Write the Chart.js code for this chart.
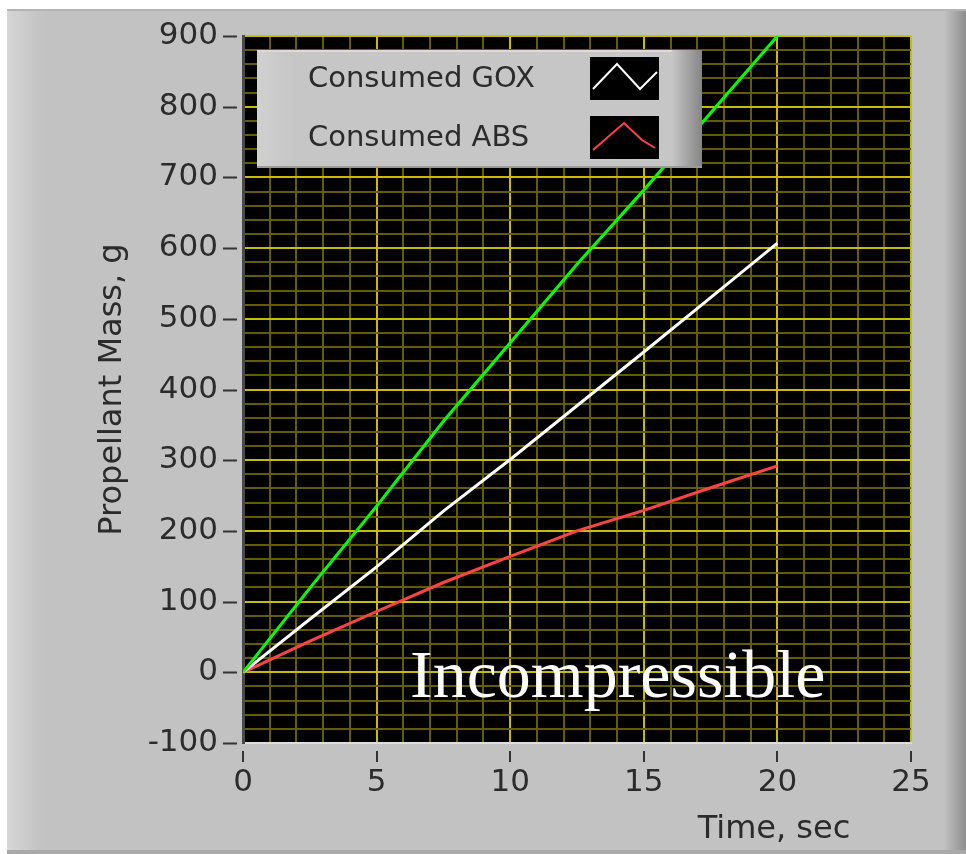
<!DOCTYPE html>
<html>
<head>
  <title>Propellant Mass</title>
  <script src="https://cdn.jsdelivr.net/npm/chart.js"></script>
  <style>
    body { margin: 0; background: #fff; }
    canvas { display: block; }
  </style>
</head>
<body>
  <canvas id="massChart" width="966" height="854"></canvas>

  <script>
    // time in sec, mass in g
    const timeSec  = [0, 2.5, 5, 7.5, 10, 12.5, 15, 17.5, 20];
    const totalMass = [0, 119, 235, 355, 466, 577, 682, 791, 900];
    const goxMass  = [0, 75, 149, 228, 301, 377, 453, 530, 607];
    const absMass  = [0, 44, 86, 127, 164, 200, 229, 261, 292];

    const xMajorTicks = [0, 5, 10, 15, 20, 25];
    const yMajorTicks = [-100, 0, 100, 200, 300, 400, 500, 600, 700, 800, 900];
    const xTitle = 'Time, sec';
    const yTitle = 'Propellant Mass, g';
    const noteText = 'Incompressible';

    const MAJOR = '#c8bc00';
    const MINOR = '#645c00';
    const TEXT = '#2b2b2b';
    const FONT = '"DejaVu Sans", sans-serif';

    function points(ys) {
      return timeSec.map((t, i) => ({ x: t, y: ys[i] }));
    }

    // panel, plot background, tick marks
    const panelPlugin = {
      id: 'panel',
      beforeDraw(chart) {
        const ctx = chart.ctx;
        const W = chart.width, H = chart.height;
        const a = chart.chartArea;
        ctx.save();
        ctx.fillStyle = '#ffffff';
        ctx.fillRect(0, 0, W, H);
        ctx.fillStyle = '#c2c2c2';
        ctx.fillRect(7, 9, W - 7, H - 9);
        ctx.fillStyle = '#b4b4b4';
        ctx.fillRect(7, 9, W - 7, 2);
        let g = ctx.createLinearGradient(7, 0, 44, 0);
        g.addColorStop(0, '#d6d6d6');
        g.addColorStop(1, '#c2c2c2');
        ctx.fillStyle = g;
        ctx.fillRect(7, 11, 37, H - 11);
        g = ctx.createLinearGradient(944, 0, W, 0);
        g.addColorStop(0, '#c2c2c2');
        g.addColorStop(1, '#8e8e8e');
        ctx.fillStyle = g;
        ctx.fillRect(944, 11, W - 944, H - 11);
        ctx.fillStyle = '#a9a9a9';
        ctx.fillRect(7, H - 4, W - 7, 4);
        ctx.fillStyle = '#000000';
        ctx.fillRect(a.left, a.top, a.right - a.left, a.bottom - a.top);
        ctx.restore();
      },
      afterDraw(chart) {
        const ctx = chart.ctx;
        const a = chart.chartArea;
        const xs = chart.scales.x, ys = chart.scales.y;
        ctx.save();
        ctx.strokeStyle = '#333333';
        ctx.lineWidth = 2;
        yMajorTicks.forEach(v => {
          const py = Math.round(ys.getPixelForValue(v)) + 0.5;
          ctx.beginPath();
          ctx.moveTo(a.left - 20, py);
          ctx.lineTo(a.left - 6, py);
          ctx.stroke();
        });
        xMajorTicks.forEach(v => {
          const px = Math.round(xs.getPixelForValue(v));
          ctx.beginPath();
          ctx.moveTo(px, a.bottom + 8);
          ctx.lineTo(px, a.bottom + 19);
          ctx.stroke();
        });

        // x axis title
        ctx.fillStyle = TEXT;
        ctx.font = '32px ' + FONT;
        ctx.textAlign = 'center';
        ctx.textBaseline = 'middle';
        ctx.fillText(xTitle, a.right - 137, a.bottom + 87);

        // annotation
        ctx.fillStyle = '#ffffff';
        ctx.font = '68px "Liberation Serif", serif';
        ctx.textAlign = 'left';
        ctx.textBaseline = 'alphabetic';
        ctx.fillText(noteText, 410, 697);

        // legend box
        const bx = 257, by = 50, bw = 445, bh = 118;
        ctx.fillStyle = '#c6c6c6';
        ctx.fillRect(bx, by, bw, bh);
        let g = ctx.createLinearGradient(bx, 0, bx + 36, 0);
        g.addColorStop(0, '#d0d0d0');
        g.addColorStop(1, '#c6c6c6');
        ctx.fillStyle = g;
        ctx.fillRect(bx, by, 36, bh);
        g = ctx.createLinearGradient(bx + bw - 30, 0, bx + bw, 0);
        g.addColorStop(0, '#c6c6c6');
        g.addColorStop(1, '#858585');
        ctx.fillStyle = g;
        ctx.fillRect(bx + bw - 30, by, 30, bh);
        ctx.fillStyle = '#dadada';
        ctx.fillRect(bx, by, bw - 30, 2);
        ctx.fillStyle = '#9a9a9a';
        ctx.fillRect(bx, by + bh - 2, bw, 2);

        const shapes = [
          [[3, 32], [27, 7], [50, 32], [67, 15]],
          [[3, 34], [34, 7], [52, 24], [65, 32]]
        ];
        const entries = chart.data.datasets.filter(d => d.inLegend);
        entries.forEach((d, i) => {
          const rowY = 79 + i * 59;
          ctx.fillStyle = TEXT;
          ctx.font = '29px ' + FONT;
          ctx.textBaseline = 'middle';
          ctx.fillText(d.label, 308, rowY);
          const sx = 590, sy = 57 + i * 59;
          ctx.fillStyle = '#000000';
          ctx.fillRect(sx, sy, 69, 43);
          ctx.strokeStyle = d.borderColor;
          ctx.lineWidth = 2;
          ctx.beginPath();
          shapes[i].forEach((p, k) => {
            if (k === 0) ctx.moveTo(sx + p[0], sy + p[1]);
            else ctx.lineTo(sx + p[0], sy + p[1]);
          });
          ctx.stroke();
        });
        ctx.restore();
      }
    };

    const ctx = document.getElementById('massChart').getContext('2d');
    new Chart(ctx, {
      type: 'line',
      data: {
        datasets: [
          { label: 'Total', data: points(totalMass), borderColor: '#00ff00', inLegend: false },
          { label: 'Consumed GOX', data: points(goxMass), borderColor: '#ffffff', inLegend: true },
          { label: 'Consumed ABS', data: points(absMass), borderColor: '#ff4444', inLegend: true }
        ]
      },
      options: {
        responsive: false,
        animation: false,
        elements: {
          point: { radius: 0 },
          line: { borderWidth: 3, tension: 0 }
        },
        layout: { padding: { top: 36, right: 55, left: 0, bottom: 0 } },
        plugins: {
          legend: { display: false },
          tooltip: { enabled: false }
        },
        scales: {
          x: {
            type: 'linear',
            min: 0,
            max: 25,
            afterFit: s => { s.height = 111; },
            ticks: {
              stepSize: 1,
              autoSkip: false,
              maxRotation: 0,
              padding: 21,
              color: TEXT,
              font: { family: FONT, size: 31 },
              callback: v => xMajorTicks.includes(v) ? v : ''
            },
            grid: {
              drawTicks: false,
              lineWidth: 2,
              color: c => xMajorTicks.includes(c.tick.value) ? MAJOR : MINOR
            },
            border: { color: '#dedede', width: 2 }
          },
          y: {
            min: -100,
            max: 900,
            afterFit: s => { s.width = 243; s.paddingTop = 0; s.paddingBottom = 0; },
            ticks: {
              stepSize: 20,
              autoSkip: false,
              padding: 25,
              color: TEXT,
              font: { family: FONT, size: 31 },
              callback: v => yMajorTicks.includes(v) ? v : ''
            },
            grid: {
              drawTicks: false,
              lineWidth: 2,
              color: c => yMajorTicks.includes(c.tick.value) ? MAJOR : MINOR
            },
            border: { color: '#4a4a4a', width: 3 },
            title: {
              display: true,
              text: yTitle,
              color: TEXT,
              font: { family: FONT, size: 32 },
              padding: { top: 93, bottom: 0 }
            }
          }
        }
      },
      plugins: [panelPlugin]
    });
  </script>
</body>
</html>
